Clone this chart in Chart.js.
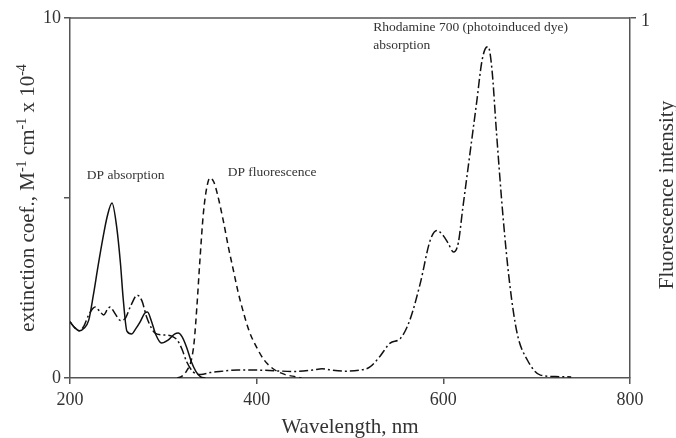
<!DOCTYPE html>
<html>
<head>
<meta charset="utf-8">
<script src="https://cdn.jsdelivr.net/npm/chart.js@4.4.1/dist/chart.umd.min.js"></script>
<style>
  html, body { margin: 0; padding: 0; background: #fff; }
  canvas { display: block; }
</style>
</head>
<body>
<canvas id="spectra" width="676" height="438"></canvas>
<script>
// DP absorption (solid, left axis, M-1 cm-1 x 10-4)
const absWl  = [200, 205, 210, 215, 220, 225, 230, 235, 240, 245, 250, 254, 257, 261, 266, 270, 275, 280, 283, 287, 292, 298, 305, 312, 316, 320, 325, 330, 335, 340, 345];
const absVal = [1.56, 1.4, 1.31, 1.38, 1.6, 2.3, 3.1, 3.85, 4.5, 4.86, 4.2, 3.2, 2.2, 1.3, 1.22, 1.35, 1.55, 1.8, 1.83, 1.6, 1.2, 0.97, 1.05, 1.22, 1.25, 1.15, 0.85, 0.45, 0.18, 0.03, 0];

// DP fluorescence (dashed, right axis, 0..1)
const fluoWl  = [315, 320, 325, 330, 333, 336, 339, 343, 347, 350, 354, 358, 364, 370, 375, 380, 385, 392, 400, 408, 418, 430, 443, 448];
const fluoVal = [0, 0.005, 0.02, 0.05, 0.1, 0.2, 0.32, 0.46, 0.535, 0.556, 0.545, 0.51, 0.44, 0.36, 0.3, 0.24, 0.19, 0.13, 0.085, 0.05, 0.025, 0.01, 0.003, 0];

// Rhodamine 700 absorption (dash-dot, left axis)
const rhoWl  = [200, 205, 210, 215, 220, 227, 232, 236, 240, 243, 248, 254, 259, 265, 272, 277, 282, 287, 291, 298, 305, 310, 315, 320, 325, 332, 340, 350, 360, 380, 400, 420, 440, 460, 470, 480, 495, 510, 521, 532, 543, 554, 564, 575, 586, 593, 600, 605, 611, 616, 621, 629, 636, 641, 645, 648, 652, 657, 664, 671, 679, 690, 704, 720, 737];
const rhoVal = [1.56, 1.4, 1.31, 1.45, 1.75, 1.97, 1.85, 1.75, 1.9, 1.97, 1.8, 1.6, 1.65, 2.0, 2.3, 2.15, 1.7, 1.4, 1.25, 1.2, 1.19, 1.15, 1.05, 0.8, 0.45, 0.17, 0.1, 0.15, 0.18, 0.22, 0.22, 0.2, 0.18, 0.22, 0.26, 0.22, 0.19, 0.22, 0.3, 0.6, 0.97, 1.1, 1.6, 2.6, 3.83, 4.1, 3.95, 3.75, 3.5, 3.75, 4.75, 6.33, 7.72, 8.75, 9.15, 9.2, 8.6, 6.8, 4.47, 2.64, 1.25, 0.5, 0.08, 0.04, 0.03];

const xTicks = [200, 400, 600, 800];
const yTicks = [0, 5, 10];
const yTickLabels = ['0', '', '10'];
const y1Ticks = [1];
const y1TickLabels = ['1'];

const axisColor = '#555';
const inkColor = '#111';
const textColor = '#333';
const serif = 'Liberation Serif';

// text notes placed in data coordinates (left axis units)
const notes = [
  { text: 'DP absorption', x: 218, y: 5.64 },
  { text: 'DP fluorescence', x: 369, y: 5.7 },
  { text: 'Rhodamine 700 (photoinduced dye)', x: 525, y: 9.75 },
  { text: 'absorption', x: 525, y: 9.25 }
];

function toPoints(xs, ys) {
  return xs.map((x, i) => ({ x: x, y: ys[i] }));
}

Chart.defaults.font.family = serif;
Chart.defaults.color = textColor;

const decorations = {
  id: 'decorations',
  afterDraw(chart) {
    const ctx = chart.ctx;
    const a = chart.chartArea;
    const sx = chart.scales.x, sy = chart.scales.y;
    const midY = (a.top + a.bottom) / 2;
    ctx.save();

    // top frame line
    ctx.strokeStyle = axisColor;
    ctx.lineWidth = 1.5;
    ctx.beginPath();
    ctx.moveTo(a.left, a.top);
    ctx.lineTo(a.right, a.top);
    ctx.stroke();

    // curve labels
    ctx.fillStyle = textColor;
    ctx.font = '13.5px "' + serif + '"';
    ctx.textAlign = 'left';
    ctx.textBaseline = 'middle';
    notes.forEach(n => {
      ctx.fillText(n.text, sx.getPixelForValue(n.x), sy.getPixelForValue(n.y));
    });

    // x axis title
    ctx.font = '21px "' + serif + '"';
    ctx.textAlign = 'center';
    ctx.fillText('Wavelength, nm', (a.left + a.right) / 2, 427);

    // right axis title, reading upwards
    ctx.save();
    ctx.translate(667, midY - 3);
    ctx.rotate(-Math.PI / 2);
    ctx.fillText('Fluorescence intensity', 0, 0);
    ctx.restore();

    // left axis title with superscripts
    const parts = [
      ['extinction coef., M', false], ['-1', true], [' cm', false],
      ['-1', true], [' x 10', false], ['-4', true]
    ];
    const big = '21px "' + serif + '"', small = '14px "' + serif + '"';
    let total = 0;
    parts.forEach(p => { ctx.font = p[1] ? small : big; total += ctx.measureText(p[0]).width; });
    ctx.translate(28, midY);
    ctx.rotate(-Math.PI / 2);
    ctx.textAlign = 'left';
    ctx.textBaseline = 'alphabetic';
    let cx = -total / 2;
    parts.forEach(p => {
      ctx.font = p[1] ? small : big;
      ctx.fillText(p[0], cx, p[1] ? -2 : 6);
      cx += ctx.measureText(p[0]).width;
    });
    ctx.restore();
  }
};

const lineStyle = {
  showLine: true,
  pointRadius: 0,
  borderWidth: 1.5,
  borderColor: inkColor,
  backgroundColor: inkColor,
  cubicInterpolationMode: 'monotone',
  fill: false
};

new Chart(document.getElementById('spectra'), {
  type: 'scatter',
  data: {
    datasets: [
      Object.assign({ label: 'DP absorption', data: toPoints(absWl, absVal), yAxisID: 'y', borderDash: [] }, lineStyle),
      Object.assign({ label: 'DP fluorescence', data: toPoints(fluoWl, fluoVal), yAxisID: 'y1', borderDash: [6, 4] }, lineStyle),
      Object.assign({ label: 'Rhodamine 700 absorption', data: toPoints(rhoWl, rhoVal), yAxisID: 'y', borderDash: [9, 3, 2, 3] }, lineStyle)
    ]
  },
  options: {
    responsive: false,
    animation: false,
    events: [],
    layout: { padding: { top: 18, left: 0, right: 0, bottom: 0 }, autoPadding: false },
    plugins: { legend: { display: false }, tooltip: { enabled: false } },
    scales: {
      x: {
        type: 'linear',
        min: 200, max: 800,
        afterBuildTicks: s => { s.ticks = xTicks.map(v => ({ value: v })); },
        afterFit: s => { s.height = 60; },
        ticks: { font: { size: 18 }, padding: 5, color: textColor },
        grid: { drawOnChartArea: false, drawTicks: true, tickLength: 6, color: axisColor, lineWidth: 1.5 },
        border: { display: true, color: axisColor, width: 1.5 }
      },
      y: {
        type: 'linear', position: 'left',
        min: 0, max: 10,
        afterBuildTicks: s => { s.ticks = yTicks.map(v => ({ value: v })); },
        afterFit: s => { s.width = 70; },
        ticks: { font: { size: 18 }, padding: 3, color: textColor, callback: (v, i) => yTickLabels[i] },
        grid: { drawOnChartArea: false, drawTicks: true, tickLength: 6, color: axisColor, lineWidth: 1.5 },
        border: { display: true, color: axisColor, width: 1.5 }
      },
      y1: {
        type: 'linear', position: 'right',
        min: 0, max: 1,
        afterBuildTicks: s => { s.ticks = y1Ticks.map(v => ({ value: v })); },
        afterFit: s => { s.width = 46; },
        ticks: { font: { size: 18 }, padding: 5, color: textColor, labelOffset: 3, callback: (v, i) => y1TickLabels[i] },
        grid: { drawOnChartArea: false, drawTicks: true, tickLength: 6, color: axisColor, lineWidth: 1.5 },
        border: { display: true, color: axisColor, width: 1.5 }
      }
    }
  },
  plugins: [decorations]
});
</script>
</body>
</html>
